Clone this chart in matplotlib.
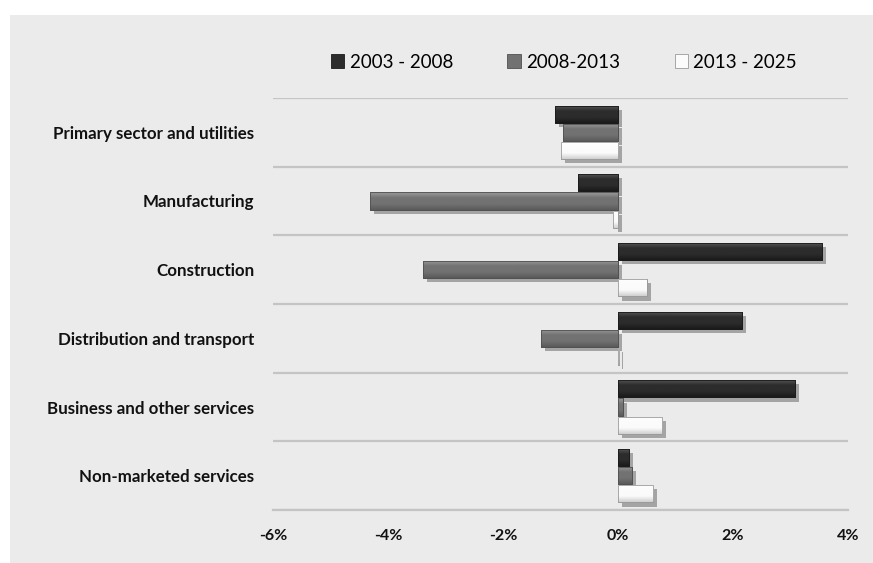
import matplotlib
matplotlib.use("Agg")
import matplotlib.pyplot as plt
import matplotlib.patheffects as pe
from matplotlib.patches import Rectangle
from matplotlib.colors import LinearSegmentedColormap
import numpy as np

categories = ["Primary sector and utilities", "Manufacturing", "Construction",
              "Distribution and transport", "Business and other services",
              "Non-marketed services"]
series_names = ["2003 - 2008", "2008-2013", "2013 - 2025"]
v_2003_2008 = [-1.10, -0.70, 3.55, 2.15, 3.08, 0.19]
v_2008_2013 = [-0.95, -4.31, -3.39, -1.34, 0.08, 0.24]
v_2013_2025 = [-1.00, -0.08, 0.50, 0.02, 0.77, 0.61]
xticks = [-6, -4, -2, 0, 2, 4]
xtick_labels = ["-6%", "-4%", "-2%", "0%", "2%", "4%"]

values = [v_2003_2008, v_2008_2013, v_2013_2025]
# gradient (top, middle, bottom) colours per series
grads = [("#5a5a5a", "#2c2c2c", "#1a1a1a"),
         ("#9a9a9a", "#727272", "#5a5a5a"),
         ("#ffffff", "#fbfbfb", "#d0d0d0")]
edge = ["#1a1a1a", "#505050", "#9a9a9a"]

plt.rcParams['font.family'] = ['Lato', 'DejaVu Sans']

W, H = 873, 563
fig = plt.figure(figsize=(W / 100, H / 100), dpi=100)
fig.patch.set_facecolor("white")
bgc = "#ebebeb"
fig.add_artist(Rectangle((10 / W, 0), 1 - 10 / W, 1 - 15 / H, transform=fig.transFigure,
                         facecolor=bgc, edgecolor="none", zorder=-10))

ax = fig.add_axes([273 / W, 1 - 510 / H, (848 - 273) / W, (510 - 98) / H])
ax.set_facecolor("none")

n = len(categories)
y = np.arange(n)
offsets = [-0.265, 0.0, 0.265]
bh = 0.25

shadow = [pe.SimplePatchShadow(offset=(3, -3), shadow_rgbFace="k", alpha=0.3), pe.Normal()]

for s in range(3):
    bars = ax.barh(y + offsets[s], values[s], height=bh, color=grads[s][1],
                   edgecolor=edge[s], linewidth=0.6, zorder=3, path_effects=shadow)
    cmap = LinearSegmentedColormap.from_list("g%d" % s, [grads[s][0], grads[s][1], grads[s][1], grads[s][2]])
    g = np.linspace(0, 1, 64).reshape(-1, 1)
    for p in bars.patches:
        x0, y0 = p.get_x(), p.get_y()
        w, h = p.get_width(), p.get_height()
        im = ax.imshow(g, cmap=cmap, aspect="auto", interpolation="bilinear",
                       extent=[min(x0, x0 + w), max(x0, x0 + w), y0 + h, y0], zorder=4)
        im.set_clip_path(p)
    ax.barh(y + offsets[s], values[s], height=bh, facecolor="none",
            edgecolor=edge[s], linewidth=0.6, zorder=5)

ax.set_xlim(-6, 4)
ax.set_ylim(n - 0.5, -0.5)
ax.set_xticks(xticks)
ax.set_xticklabels(xtick_labels, fontsize=11.5, fontweight="bold", color="#111111")
ax.set_yticks(y)
ax.set_yticklabels(categories, fontsize=12.2, fontweight="bold", color="#111111")
ax.set_yticks(np.arange(-0.5, n, 1.0), minor=True)
ax.tick_params(axis="both", which="both", length=0)
ax.tick_params(axis="y", pad=13.5)
ax.tick_params(axis="x", pad=14)
ax.grid(axis="y", which="minor", color="#c4c4c4", linewidth=1.6, zorder=1)
for sp in ["left", "right", "top"]:
    ax.spines[sp].set_visible(False)
ax.spines["bottom"].set_color("#c4c4c4")
ax.spines["bottom"].set_linewidth(1.6)

handles = [Rectangle((0, 0), 1, 1, facecolor=grads[s][1], edgecolor=edge[s], linewidth=0.6)
           for s in range(3)]
fig.legend(handles, series_names, loc="center", bbox_to_anchor=(0.646, 1 - 62 / H), ncol=3,
           frameon=False, handlelength=0.7, handleheight=0.7,
           handletextpad=0.3, columnspacing=2.9,
           prop={"size": 13.5})

fig.savefig("out.png", dpi=100, facecolor=fig.get_facecolor())
